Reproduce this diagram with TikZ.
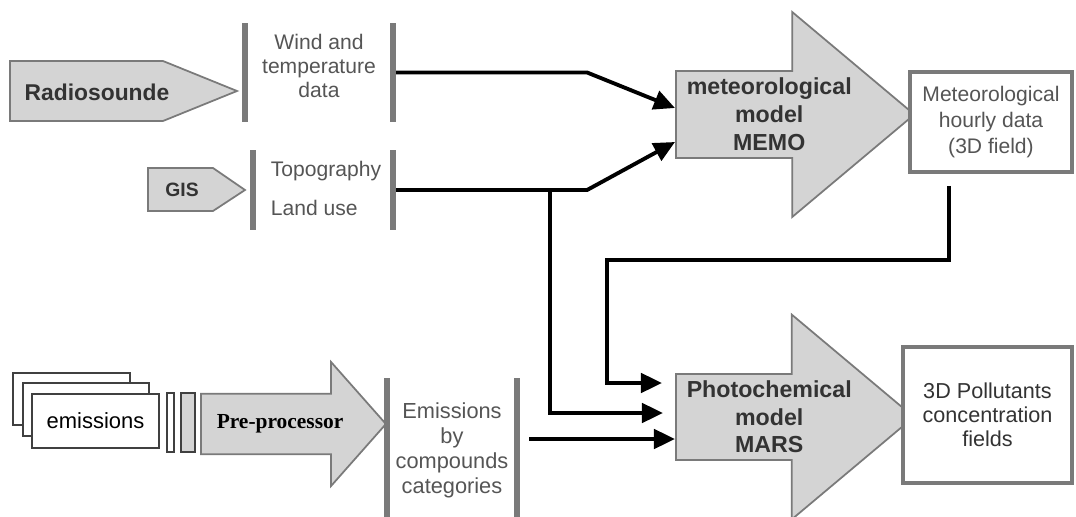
\documentclass[tikz,border=0pt]{standalone}
\usepackage{fontspec}
\setmainfont{Liberation Sans}
\newfontfamily\timesfont{Liberation Serif}
\usetikzlibrary{arrows.meta,shapes.arrows,calc}
\definecolor{boxgray}{HTML}{D4D4D4}
\definecolor{linegray}{HTML}{7A7A7A}
\definecolor{textgray}{HTML}{555555}
\begin{document}
\begin{tikzpicture}[x=0.02cm, y=-0.02cm,
	bar/.style={fill=linegray, draw=none, minimum width=0.11cm, inner sep=0pt},
	tag/.style={fill=boxgray, draw=linegray, line width=1pt},
	bigarrow/.style={single arrow, fill=boxgray, draw=linegray, line width=1pt, inner ysep=0pt, inner xsep=0.2cm, anchor=tail,
		minimum height=4.52cm, minimum width=4.1cm, single arrow head extend=1.02cm, single arrow tip angle=80},
	sheet/.style={draw=black!75, line width=0.8pt, fill=white, inner sep=0pt},
	info/.style={text=textgray, inner sep=0pt, font=\fontsize{12}{13.6}\selectfont},
	result/.style={draw=linegray, line width=2.2pt, fill=white, inner sep=0pt, text=black!80, align=center},
	conn/.style={line width=2.2pt, -{Triangle[length=12pt,width=11pt]}}]
	\useasboundingbox (0,0) rectangle (1076,517);
	%sources
	\draw[tag] (10,61) -- (163,61) -- (237,91) -- (163,121) -- (10,121) -- cycle;
	\node[font=\bfseries\fontsize{13}{15}\selectfont, text=black!80] (radio) at (97,92) {Radiosounde};
	\draw[tag] (148,168) -- (213,168) -- (245,190) -- (213,211) -- (148,211) -- cycle;
	\node[font=\bfseries\fontsize{11}{13}\selectfont, text=black!80] (gis) at (182,190) {GIS};
	%data bars
	\node[bar, minimum height=1.98cm] (windL) at (245,72.5) {};
	\node[bar, minimum height=1.98cm] (windR) at (393,72.5) {};
	\node[info, align=center] (wind) at (319,66) {Wind and\\temperature\\data};
	\node[bar, minimum height=1.6cm] (gisL) at (253,190) {};
	\node[bar, minimum height=1.6cm] (gisR) at (393,190) {};
	\node[info, align=left, font=\fontsize{12}{22}\selectfont] (topo) at (326,188.5) {Topography\\Land use};
	%emissions
	\node[sheet, minimum width=2.34cm, minimum height=1.04cm] (emi3) at (71.5,399) {};
	\node[sheet, minimum width=2.52cm, minimum height=1.06cm] (emi2) at (86,409.5) {};
	\node[sheet, minimum width=2.54cm, minimum height=1.08cm, font=\fontsize{12.5}{14}\selectfont] (emi1) at (95.5,421) {emissions};
	\node[sheet, minimum width=0.14cm, minimum height=1.18cm] (sep1) at (170.5,422.5) {};
	\node[sheet, fill=boxgray, minimum width=0.28cm, minimum height=1.18cm] (sep2) at (188,422.5) {};
	\node[bigarrow, minimum height=3.66cm, minimum width=2.46cm, inner ysep=0.4cm, inner xsep=0.3cm, single arrow head extend=0.64cm,
		single arrow tip angle=97, font=\timesfont\bfseries\fontsize{12.2}{14}\selectfont] (pre) at (200,424) {Pre-processor};
	\node[bar, minimum height=2.84cm] (emiL) at (387,449) {};
	\node[bar, minimum height=2.84cm] (emiR) at (517,449) {};
	\node[info, align=center, font=\fontsize{12.4}{14.2}\selectfont] (emicat) at (452,450) {Emissions\\by\\compounds\\categories};
	%models
	\node[bigarrow, align=center, text=black!80, font=\bfseries\fontsize{13.2}{16}\selectfont] (memo) at (675,114.5) {meteorological\\model\\MEMO};
	\node[bigarrow, align=center, text=black!80, font=\bfseries\fontsize{13.2}{15.6}\selectfont] (mars) at (675,417) {Photochemical\\model\\MARS};
	%outputs
	\node[result, minimum width=3.24cm, minimum height=2cm, font=\fontsize{12}{15}\selectfont, text=textgray] (hourly) at (991,122) {Meteorological\\hourly data\\(3D field)};
	\node[result, minimum width=3.38cm, minimum height=2.72cm, font=\fontsize{12.3}{13.6}\selectfont] (pollut) at (987.5,415) {3D Pollutants\\concentration\\fields};
	%connectors
	\draw[conn] (windR.east) -- ++(191,0) -- ($(memo.tail)+(0,-6.5)$);
	\draw[conn] (gisR.east) -- ++(191,0) -- ($(memo.tail)+(0,27.5)$);
	\draw[conn] ($(gisR.east)+(153.5,0)$) |- ($(mars.tail)+(-12,-4)$);
	\draw[conn] ($(hourly.south)+(-42,12)$) -- ++(0,74) -| ($(mars.tail)+(-68,-34)$) -- ($(mars.tail)+(-13,-34)$);
	\draw[conn] ($(emiR.east)+(9,-10)$) -- ($(mars.tail)+(0,22)$);
\end{tikzpicture}
\end{document}
